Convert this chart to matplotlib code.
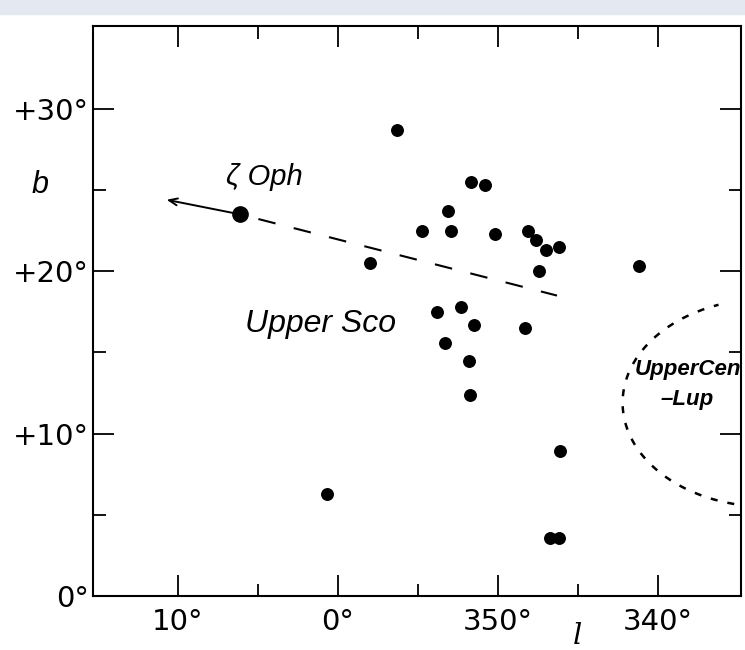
import numpy as np
import matplotlib
matplotlib.use("Agg")
import matplotlib.pyplot as plt
from matplotlib.patches import Rectangle

# ================= DATA =================
# galactic longitude / latitude of Upper Sco members (deg)
l_stars = [356.3, 351.65, 350.8, 353.1, 354.75, 352.9, 350.2, 348.1, 347.6,
           347.0, 346.2, 347.4, 358.0, 353.8, 352.3, 351.5, 348.3, 353.3,
           351.8, 351.75, 346.1, 346.75, 346.2, 341.2, 0.7]
b_stars = [28.7, 25.5, 25.3, 23.7, 22.5, 22.5, 22.3, 22.5, 21.9,
           21.3, 21.5, 20.0, 20.5, 17.5, 17.8, 16.7, 16.5, 15.6,
           14.5, 12.4, 8.9, 3.6, 3.6, 20.3, 6.3]

# zeta Oph: position, motion vector tip, back-traced path end
zeta_lb = (6.1, 23.5)
zeta_tip_lb = (10.7, 24.4)
zeta_path_end_lb = (346.3, 18.5)

# Upper Cen-Lup boundary (ellipse: centre, half axes, angle range)
ucl_center = (333.2, 11.9)
ucl_half_axes = (9.0, 6.4)
ucl_theta = (-77, 70.5)

xtick_major = [10, 0, 350, 340]
xtick_labels = ["10°", "0°", "350°", "340°"]
xtick_minor = [5, 355, 345]
ytick_major = [0, 10, 20, 30]
ytick_labels = ["0°", "+10°", "+20°", "+30°"]
ytick_minor = [5, 15, 25]


def wrap(l):
    l = np.asarray(l, dtype=float)
    return np.where(l > 180, l - 360, l)


# ================= FIGURE =================
fig = plt.figure(figsize=(7.45, 6.5), dpi=100)
fig.patches.append(Rectangle((0, 1 - 14 / 650), 1, 14 / 650, transform=fig.transFigure,
                             color="#e4e9f1", zorder=0))

ax = fig.add_axes([93 / 745, 1 - 596 / 650, (741 - 93) / 745, (596 - 26) / 650])
ax.set_xlim(15.3, -25.2)
ax.set_ylim(0, 35.1)

for s in ax.spines.values():
    s.set_linewidth(1.5)

ax.set_xticks(wrap(xtick_major))
ax.set_xticklabels(xtick_labels)
ax.set_xticks(wrap(xtick_minor), minor=True)
ax.set_yticks(ytick_major)
ax.set_yticklabels(ytick_labels)
ax.set_yticks(ytick_minor, minor=True)
ax.tick_params(which="both", direction="in", top=True, right=True, width=1.3, labelsize=21)
ax.tick_params(which="major", length=15)
ax.tick_params(which="minor", length=9)
ax.tick_params(axis="x", pad=9)
ax.tick_params(axis="y", pad=3)

# stars
ax.plot(wrap(l_stars), b_stars, "o", color="black", ms=8.3, zorder=3)

# zeta Oph
zl, zb = wrap(zeta_lb[0]), zeta_lb[1]
ax.plot(zl, zb, "o", color="black", ms=11, zorder=4)
ax.annotate("", xy=(wrap(zeta_tip_lb[0]), zeta_tip_lb[1]), xytext=(zl, zb),
            arrowprops=dict(arrowstyle="->,head_length=0.6,head_width=0.25", lw=1.4,
                            color="black", shrinkA=0, shrinkB=0))
ax.plot([zl, wrap(zeta_path_end_lb[0])], [zb, zeta_path_end_lb[1]], color="black",
        lw=1.5, linestyle=(8.5, (8.5, 9)))

# Upper Cen-Lup boundary
t = np.radians(np.linspace(ucl_theta[0], ucl_theta[1], 200))
ax.plot(wrap(ucl_center[0]) + ucl_half_axes[0] * np.cos(t),
        ucl_center[1] + ucl_half_axes[1] * np.sin(t),
        color="black", lw=1.8, linestyle=(0, (2.8, 4)))

# labels
ax.text(7.0, 25.3, "ζ Oph", fontsize=21, fontstyle="italic", family="Liberation Sans",
        ha="left", va="baseline")
ax.text((338 - 245) / 16, (596 - 332) / 16.23, "Upper Sco", fontsize=23, fontstyle="italic",
        family="Liberation Sans", ha="left", va="baseline")
ax.text((338 - 688) / 16, (596 - 375) / 16.23, "UpperCen", fontsize=16, fontstyle="italic",
        fontweight="bold", family="Liberation Sans", ha="center", va="baseline", clip_on=True)
ax.text((338 - 687) / 16, (596 - 405) / 16.23, "–Lup", fontsize=16, fontstyle="italic",
        fontweight="bold", family="Liberation Sans", ha="center", va="baseline")

fig.text(40 / 745, 1 - 185 / 650, "b", fontsize=22, fontstyle="italic",
         family="Liberation Sans", ha="center", va="center")
fig.text(577 / 745, 1 - 636 / 650, "l", fontsize=21, fontstyle="italic",
         family="DejaVu Serif", ha="center", va="center")

fig.savefig("out.png", dpi=100)
